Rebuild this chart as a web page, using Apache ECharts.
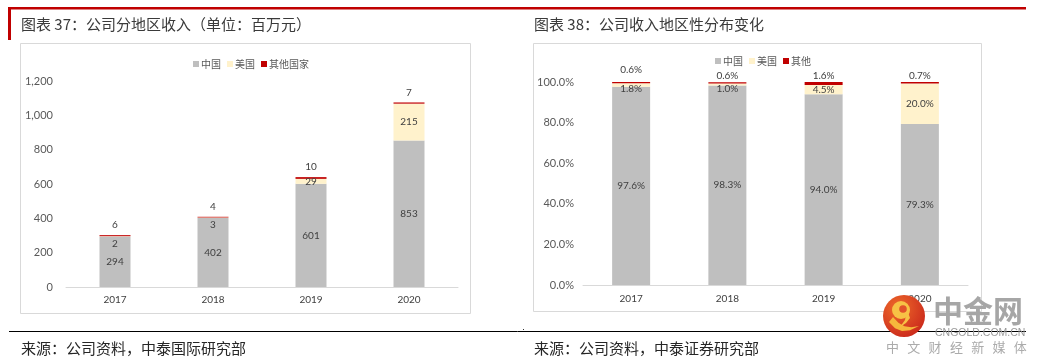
<!DOCTYPE html>
<html>
<head>
<meta charset="utf-8">
<script src="https://cdn.jsdelivr.net/npm/echarts@6/dist/echarts.min.js"></script>
<style>
  html, body { margin: 0; padding: 0; background: #ffffff; }
  #chart { width: 1040px; height: 364px; }
</style>
</head>
<body>
<div id="chart"></div>
<script>
// ---- data ----
const years = ['2017', '2018', '2019', '2020'];
// chart 37: revenue by region (RMB mn)
const revChina = [294, 402, 601, 853];
const revUS = [2, 3, 29, 215];
const revOther = [6, 4, 10, 7];
// chart 38: share by region (%)
const shareChina = [97.6, 98.3, 94.0, 79.3];
const shareUS = [1.8, 1.0, 4.5, 20.0];
const shareOther = [0.6, 0.6, 1.6, 0.7];

const leftTitle = '图表 37：公司分地区收入（单位：百万元）';
const rightTitle = '图表 38：公司收入地区性分布变化';
const leftSource = '来源：公司资料，中泰国际研究部';
const rightSource = '来源：公司资料，中泰证券研究部';
const leftLegend = ['中国', '美国', '其他国家'];
const rightLegend = ['中国', '美国', '其他'];

const GRAY = '#bfbfbf', CREAM = '#fff2cc', RED = '#c00000';
const CJK = '"Noto Sans CJK SC", sans-serif';
const NUM = 'Lato, "Noto Sans CJK SC", sans-serif';

const chart = echarts.init(document.getElementById('chart'));

const labelBase = { show: true, color: '#404040', fontSize: 10, fontFamily: NUM };

const graphics = [
  // red header lines
  { type: 'rect', shape: { x: 8, y: 7, width: 1018, height: 2.5 }, style: { fill: RED } },
  { type: 'rect', shape: { x: 8, y: 7, width: 3, height: 33 }, style: { fill: RED } },
  // titles
  { type: 'text', x: 21, y: 24, style: { text: leftTitle, fill: '#3a3a3a', font: '15px ' + CJK, textVerticalAlign: 'middle' } },
  { type: 'text', x: 534, y: 24, style: { text: rightTitle, fill: '#3a3a3a', font: '15px ' + CJK, textVerticalAlign: 'middle' } },
  // chart frames
  { type: 'rect', shape: { x: 20.5, y: 43.5, width: 450, height: 270 }, style: { fill: 'none', stroke: '#d9d9d9', lineWidth: 1 } },
  { type: 'rect', shape: { x: 533.5, y: 43.5, width: 448, height: 268 }, style: { fill: 'none', stroke: '#d9d9d9', lineWidth: 1 } },
  // source rules
  { type: 'line', shape: { x1: 9, y1: 331.5, x2: 1026, y2: 331.5 }, style: { stroke: '#000', lineWidth: 1 } },
  { type: 'rect', shape: { x: 523, y: 329, width: 1, height: 1 }, style: { fill: '#333' } },
  // sources
  { type: 'text', x: 21, y: 348, style: { text: leftSource, fill: '#262626', font: '15px ' + CJK, textVerticalAlign: 'middle' } },
  { type: 'text', x: 534, y: 348, style: { text: rightSource, fill: '#262626', font: '15px ' + CJK, textVerticalAlign: 'middle' } },
  // watermark logo
  { type: 'circle', z: 100, shape: { cx: 904, cy: 316, r: 21 },
    style: { fill: new echarts.graphic.RadialGradient(0.35, 0.3, 0.8, [
      { offset: 0, color: '#ee6a2a' }, { offset: 1, color: '#c9261b' }]) } },
  { type: 'polygon', z: 101, shape: { points: [[889, 322], [895, 328.3], [902, 331], [910, 330.3], [919, 326],
      [911.4, 327.3], [904.5, 326.3], [898.4, 322.8], [893, 317]] }, style: { fill: '#f6b73c' } },
  { type: 'circle', z: 101, shape: { cx: 901, cy: 310, r: 9 }, style: { fill: '#f7c245' } },
  { type: 'circle', z: 102, shape: { cx: 903, cy: 309, r: 3.8 }, style: { fill: '#e2522a' } },
  { type: 'polygon', z: 101, shape: { points: [[908, 312], [910, 318], [906, 323], [900, 327], [905, 320], [906, 314]] }, style: { fill: '#f7c245' } },
  { type: 'text', z: 100, x: 933, y: 311, style: { text: '中金网', fill: '#a6a6a6', font: 'bold 30px ' + CJK, textVerticalAlign: 'middle' } },
  { type: 'text', z: 100, x: 935, y: 333, style: { text: 'CNGOLD.COM.CN', fill: '#9a9a9a', font: '10.5px "Liberation Sans", sans-serif', textVerticalAlign: 'middle' } }
];
const tagline = '中文财经新媒体';
for (let i = 0; i < tagline.length; i++) {
  graphics.push({ type: 'text', z: 100, x: 886 + i * 21.3, y: 347,
    style: { text: tagline[i], fill: '#ababab', font: '13px ' + CJK, textVerticalAlign: 'middle' } });
}

const option = {
  backgroundColor: '#ffffff',
  animation: false,
  legend: [
    { data: leftLegend, left: 188, top: 54, itemWidth: 6, itemHeight: 6, itemGap: 6, icon: 'rect',
      textStyle: { fontSize: 10, color: '#595959', fontFamily: CJK, padding: [0, 0, 0, -3] } },
    { data: rightLegend, left: 710, top: 51, itemWidth: 6, itemHeight: 6, itemGap: 6, icon: 'rect',
      textStyle: { fontSize: 10, color: '#595959', fontFamily: CJK, padding: [0, 0, 0, -3] } }
  ],
  grid: [
    { left: 66, width: 392, top: 81, height: 206 },
    { left: 583, width: 385, top: 82, height: 203 }
  ],
  xAxis: [
    { type: 'category', gridIndex: 0, data: years,
      axisLine: { lineStyle: { color: '#d9d9d9' } }, axisTick: { show: false },
      axisLabel: { color: '#404040', fontSize: 10, fontFamily: NUM, margin: 8 } },
    { type: 'category', gridIndex: 1, data: years,
      axisLine: { lineStyle: { color: '#d9d9d9' } }, axisTick: { show: false },
      axisLabel: { color: '#404040', fontSize: 10, fontFamily: NUM, margin: 9 } }
  ],
  yAxis: [
    { type: 'value', gridIndex: 0, min: 0, max: 1200, interval: 200,
      splitLine: { show: false }, axisLine: { show: false }, axisTick: { show: false },
      axisLabel: { color: '#595959', fontSize: 11, fontFamily: NUM, margin: 13,
        formatter: v => v.toLocaleString('en-US') } },
    { type: 'value', gridIndex: 1, min: 0, max: 100, interval: 20,
      splitLine: { show: false }, axisLine: { show: false }, axisTick: { show: false },
      axisLabel: { color: '#595959', fontSize: 11, fontFamily: NUM, margin: 9,
        formatter: v => v.toFixed(1) + '%' } }
  ],
  series: [
    { name: '中国', type: 'bar', stack: 'rev', xAxisIndex: 0, yAxisIndex: 0, barWidth: 31,
      itemStyle: { color: GRAY }, label: Object.assign({ position: 'inside' }, labelBase), data: revChina },
    { name: '美国', type: 'bar', stack: 'rev', xAxisIndex: 0, yAxisIndex: 0, barWidth: 31,
      itemStyle: { color: CREAM }, label: Object.assign({ position: 'inside' }, labelBase),
      data: revUS.map(v => v < 5 ? { value: v, label: { offset: [0, 7] } } : v) },
    { name: '其他国家', type: 'bar', stack: 'rev', xAxisIndex: 0, yAxisIndex: 0, barWidth: 31,
      itemStyle: { color: RED }, label: Object.assign({ position: 'top', distance: 5 }, labelBase), data: revOther },

    { name: '中国', type: 'bar', stack: 'share', xAxisIndex: 1, yAxisIndex: 1, barWidth: 38,
      itemStyle: { color: GRAY },
      label: Object.assign({ position: 'inside', formatter: p => p.value.toFixed(1) + '%' }, labelBase), data: shareChina },
    { name: '美国', type: 'bar', stack: 'share', xAxisIndex: 1, yAxisIndex: 1, barWidth: 38,
      itemStyle: { color: CREAM },
      label: Object.assign({ position: 'inside', formatter: p => p.value.toFixed(1) + '%' }, labelBase),
      data: shareUS.map(v => v < 2 ? { value: v, label: { offset: [0, 4] } } : v) },
    { name: '其他', type: 'bar', stack: 'share', xAxisIndex: 1, yAxisIndex: 1, barWidth: 38,
      itemStyle: { color: RED },
      label: Object.assign({ position: 'top', distance: 1, formatter: p => p.value.toFixed(1) + '%' }, labelBase),
      data: shareOther.map((v, i) => i === 0 ? { value: v, label: { distance: 7 } } : v) }
  ],
  graphic: graphics
};
chart.setOption(option);
</script>
</body>
</html>
